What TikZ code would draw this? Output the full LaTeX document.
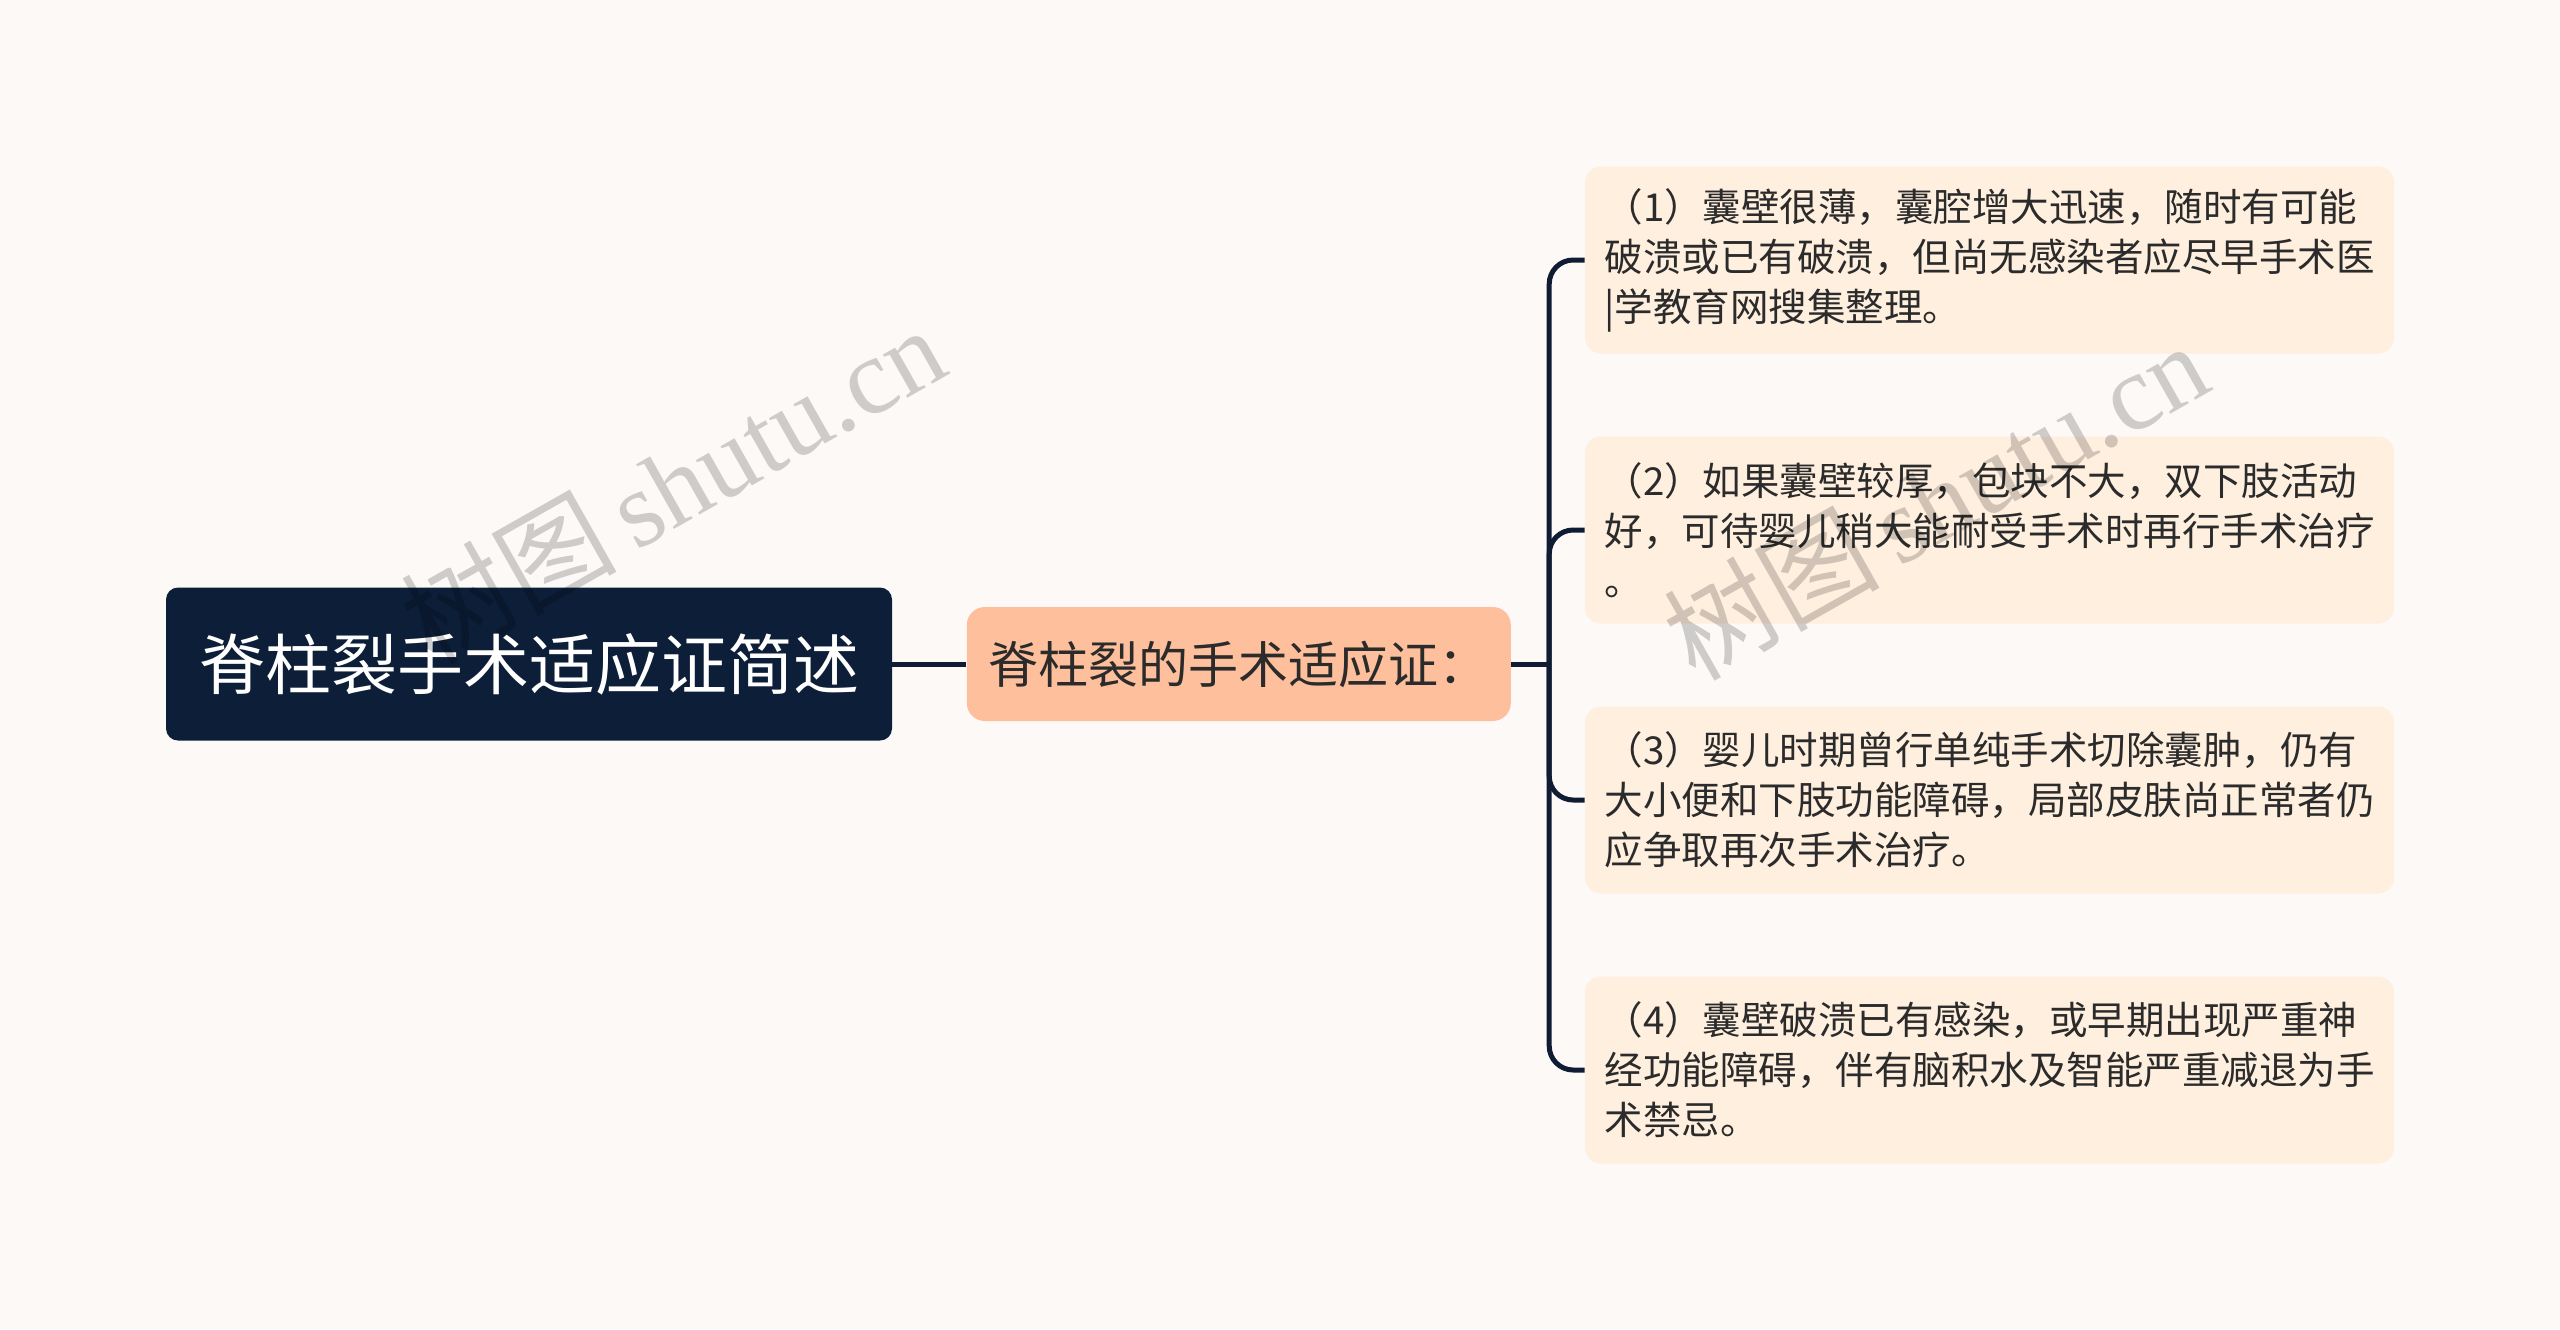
\documentclass[tikz,border=0pt]{standalone}
\usepackage{fontspec}
\setmainfont{Noto Sans CJK SC}
\newfontfamily\wzfont{Liberation Serif}
\newfontfamily\wzcjk{Noto Sans CJK SC}
\usepackage{tikz}
\usetikzlibrary{positioning}
\definecolor{grund}{HTML}{FCF9F7}
\definecolor{nacht}{HTML}{0D1E38}
\definecolor{pfirsich}{HTML}{FDBF9C}
\definecolor{creme}{HTML}{FEEFDF}
\definecolor{tinte}{HTML}{2B2B2B}
\definecolor{strich}{HTML}{0F1C33}
\tikzset{
  %Define style for the boxes
  haupt/.style={
    rectangle,
    rounded corners=6pt,
    fill=nacht,
    text=white,
    minimum width=363pt,
    minimum height=76.5pt,
    inner sep=0pt,
    font=\fontsize{33pt}{40pt}\selectfont},
  zweig/.style={
    rectangle,
    rounded corners=9pt,
    fill=pfirsich,
    text=tinte,
    minimum width=272pt,
    minimum height=57pt,
    inner sep=0pt,
    font=\fontsize{25pt}{30pt}\selectfont},
  blatt/.style={
    rectangle,
    rounded corners=8pt,
    fill=creme,
    text=tinte,
    minimum width=404.5pt,
    minimum height=93.5pt,
    inner xsep=9.5pt,
    inner ysep=0pt,
    align=left,
    font=\fontsize{19.25pt}{25pt}\selectfont},
  % Define line style
  linie/.style={
    draw=strich,
    line width=2.5pt},
  wasserzeichen/.style={
    text=black,
    text opacity=0.18,
    font=\fontsize{54pt}{60pt}\selectfont}
}
\begin{document}
\begin{tikzpicture}[x=0.5pt,y=-0.5pt]
  \fill[grund] (0,0) rectangle (2560,1329);
  \useasboundingbox (0,0) rectangle (2560,1329);
  \node[haupt] (haupt) at (529,664) {脊柱裂手术适应证简述};
  \node[zweig, right=37pt of haupt] (mitte) {脊柱裂的手术适应证：};
  \coordinate[right=19pt of mitte] (knoten);
  \node[blatt] (b1) at (1989.5,260) {（1）囊壁很薄，囊腔增大迅速，随时有可能\\破溃或已有破溃，但尚无感染者应尽早手术医\\|学教育网搜集整理。};
  \node[blatt] (b2) at (1989.5,530) {（2）如果囊壁较厚，包块不大，双下肢活动\\好，可待婴儿稍大能耐受手术时再行手术治疗\\。};
  \node[blatt] (b3) at (1989.5,800) {（3）婴儿时期曾行单纯手术切除囊肿，仍有\\大小便和下肢功能障碍，局部皮肤尚正常者仍\\应争取再次手术治疗。};
  \node[blatt] (b4) at (1989.5,1070) {（4）囊壁破溃已有感染，或早期出现严重神\\经功能障碍，伴有脑积水及智能严重减退为手\\术禁忌。};
  \draw[linie] (haupt) -- (mitte);
  \draw[linie] (mitte) -- (knoten);
  \foreach \i in {1,...,4}
    \draw[linie, rounded corners=12pt] (knoten) |- (b\i.west);
  \node[wasserzeichen, rotate=29.5] (wz1) at (672,484) {\wzcjk 树图\,\wzfont shutu.cn};
  \node[wasserzeichen, rotate=29.5] (wz2) at (1935,500) {\wzcjk 树图\,\wzfont shutu.cn};
\end{tikzpicture}
\end{document}
